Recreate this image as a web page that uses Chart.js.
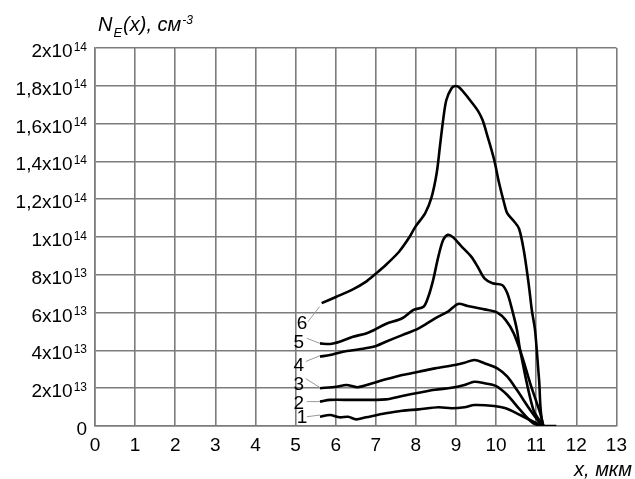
<!DOCTYPE html>
<html>
<head>
<meta charset="utf-8">
<script src="https://cdn.jsdelivr.net/npm/chart.js@4.4.1/dist/chart.umd.min.js"></script>
<style>
  html, body { margin: 0; padding: 0; background: #fff; }
  #wrap { width: 635px; height: 479px; }
</style>
</head>
<body>
<div id="wrap"><canvas id="chart"></canvas></div>
<script>
'use strict';

// N_E(x) profiles, x in um, value in units of 1e13 cm^-3
const CURVE_1 = [[5.61,0.49],[5.86,0.58],[6.10,0.46],[6.31,0.49],[6.51,0.35],[6.76,0.46],[7.25,0.67],[7.66,0.81],[8.07,0.88],[8.56,0.99],[8.89,0.94],[9.21,0.99],[9.46,1.11],[9.95,1.06],[10.24,0.94],[10.60,0.58],[10.93,0.23],[11.18,0]];
const CURVE_2 = [[5.61,1.29],[5.86,1.38],[6.43,1.38],[7.25,1.41],[7.66,1.59],[8.07,1.76],[8.48,1.92],[8.89,2.02],[9.21,2.17],[9.46,2.34],[9.71,2.26],[9.99,2.12],[10.28,1.64],[10.60,0.85],[10.93,0.14],[11.18,0]];
const CURVE_3 = [[5.61,2.00],[6.02,2.08],[6.27,2.17],[6.55,2.05],[6.92,2.26],[7.25,2.47],[7.66,2.70],[8.07,2.87],[8.48,3.05],[8.97,3.23],[9.21,3.35],[9.46,3.49],[9.71,3.32],[10.03,3.05],[10.28,2.61],[10.52,1.90],[10.85,0.85],[11.10,0.14],[11.18,0]];
const CURVE_4 = [[5.61,3.67],[5.86,3.76],[6.18,3.93],[6.59,4.06],[6.96,4.20],[7.25,4.46],[7.66,4.81],[8.07,5.17],[8.48,5.70],[8.80,6.05],[9.05,6.46],[9.29,6.35],[9.71,6.17],[10.03,6.00],[10.24,5.60],[10.44,4.90],[10.65,3.67],[10.85,2.26],[11.10,0.67],[11.18,0]];
const CURVE_5 = [[5.61,4.37],[5.86,4.34],[6.10,4.46],[6.43,4.72],[6.76,4.90],[6.96,5.08],[7.25,5.40],[7.66,5.70],[7.94,6.14],[8.19,6.31],[8.31,6.84],[8.43,7.72],[8.56,8.96],[8.68,9.84],[8.80,10.12],[8.93,9.98],[9.13,9.52],[9.38,8.96],[9.54,8.43],[9.71,7.81],[9.91,7.55],[10.15,7.46],[10.28,7.02],[10.40,6.14],[10.52,5.08],[10.60,4.00],[10.93,0.85],[11.18,0]];
const CURVE_6 = [[5.65,6.50],[6.02,6.84],[6.43,7.23],[6.76,7.64],[6.99,8.04],[7.25,8.52],[7.58,9.22],[7.82,9.93],[7.99,10.55],[8.23,11.25],[8.39,12.10],[8.52,13.40],[8.60,14.80],[8.68,16.20],[8.76,17.25],[8.89,17.87],[8.98,17.99],[9.09,17.90],[9.29,17.40],[9.54,16.70],[9.66,16.20],[9.79,15.30],[9.95,14.10],[10.07,12.90],[10.20,11.80],[10.28,11.25],[10.44,10.85],[10.57,10.45],[10.69,9.30],[10.81,7.55],[10.89,6.14],[10.97,5.08],[11.07,2.50],[11.18,0],[11.50,0]];

const CURVES = [CURVE_1, CURVE_2, CURVE_3, CURVE_4, CURVE_5, CURVE_6];

// curve numbers and their thin leader lines (number -> start of curve)
const CURVE_NAMES = ['1', '2', '3', '4', '5', '6'];
const NAME_AT = [[5.16,0.49],[5.08,1.23],[5.08,2.22],[5.08,3.23],[5.08,4.46],[5.16,5.47]];
const LEADERS = [
  [[5.28,0.49],[5.61,0.58]],
  [[5.28,1.29],[5.61,1.29]],
  [[5.26,2.50],[5.61,2.03]],
  [[5.26,3.42],[5.61,3.72]],
  [[5.28,4.64],[5.61,4.37]],
  [[5.31,5.52],[5.60,6.32]]
];

// y ticks: [mantissa part, power]
const Y_TICKS = [0, 2, 4, 6, 8, 10, 12, 14, 16, 18, 20];
const Y_TICK_LABELS = [
  ['0', ''], ['2x10', '13'], ['4x10', '13'], ['6x10', '13'], ['8x10', '13'],
  ['1x10', '14'], ['1,2x10', '14'], ['1,4x10', '14'], ['1,6x10', '14'],
  ['1,8x10', '14'], ['2x10', '14']
];

const FONT = "'Liberation Sans', Arial, sans-serif";
const GRID = '#7c7c7c';

const toPts = arr => arr.map(p => ({ x: p[0], y: p[1] }));

const datasets = [];
LEADERS.forEach(l => datasets.push({
  data: toPts(l), borderColor: '#9a9a9a', borderWidth: 1,
  pointRadius: 0, tension: 0
}));
CURVES.forEach(c => datasets.push({
  data: toPts(c), borderColor: '#000', borderWidth: 2.6,
  pointRadius: 0, tension: 0.3
}));

// draws y tick labels with superscripts, curve numbers and axis titles
const textPlugin = {
  id: 'texts',
  afterDraw(chart) {
    const { ctx, scales: { x, y } } = chart;
    ctx.save();
    ctx.fillStyle = '#000';
    ctx.textBaseline = 'alphabetic';

    Y_TICKS.forEach((v, i) => {
      const py = y.getPixelForValue(v);
      const [base, sup] = Y_TICK_LABELS[i];
      ctx.font = '12px ' + FONT;
      const supW = sup ? ctx.measureText(sup).width + 1 : 0;
      ctx.font = '19px ' + FONT;
      const baseW = ctx.measureText(base).width;
      const right = 87;
      ctx.textAlign = 'left';
      ctx.fillText(base, right - supW - baseW, py + 9);
      if (sup) {
        ctx.font = '12px ' + FONT;
        ctx.fillText(sup, right - supW + 1, py + 2.5);
      }
    });

    ctx.font = '19px ' + FONT;
    ctx.textAlign = 'center';
    ctx.textBaseline = 'middle';
    CURVE_NAMES.forEach((n, i) => {
      ctx.fillText(n, x.getPixelForValue(NAME_AT[i][0]), y.getPixelForValue(NAME_AT[i][1]) + 1);
    });

    // y-axis title: N_E(x), см^-3
    ctx.textBaseline = 'alphabetic';
    ctx.textAlign = 'left';
    let px = 98;
    ctx.font = 'italic 20px ' + FONT;
    ctx.fillText('N', px, 31);
    px += ctx.measureText('N').width + 1;
    ctx.font = 'italic 13px ' + FONT;
    ctx.fillText('E', px, 37);
    px += ctx.measureText('E').width + 1;
    ctx.font = 'italic 20px ' + FONT;
    ctx.fillText('(x), см', px, 31);
    px += ctx.measureText('(x), см').width + 1;
    ctx.font = 'italic 12px ' + FONT;
    ctx.fillText('-3', px, 24);

    // x-axis title
    ctx.font = 'italic 20px ' + FONT;
    ctx.textAlign = 'right';
    ctx.fillText('x, мкм', 632, 476);
    ctx.restore();
  }
};

new Chart(document.getElementById('chart').getContext('2d'), {
  type: 'line',
  data: { datasets },
  plugins: [textPlugin],
  options: {
    responsive: true,
    maintainAspectRatio: false,
    animation: false,
    layout: { padding: { top: 48, right: 11, left: 0, bottom: 0 } },
    plugins: { legend: { display: false }, tooltip: { enabled: false } },
    scales: {
      x: {
        type: 'linear', min: 0, max: 13,
        afterFit: s => { s.height = 53; },
        grid: { color: GRID, lineWidth: 1.6, drawTicks: false },
        border: { color: GRID, width: 1.6 },
        ticks: { stepSize: 1, padding: 8, color: '#000', font: { family: FONT, size: 19 } }
      },
      y: {
        type: 'linear', min: 0, max: 20,
        afterFit: s => { s.width = 95; },
        grid: { color: GRID, lineWidth: 1.6, drawTicks: false },
        border: { color: GRID, width: 1.6 },
        ticks: { stepSize: 2, display: false }
      }
    }
  }
});
</script>
</body>
</html>
